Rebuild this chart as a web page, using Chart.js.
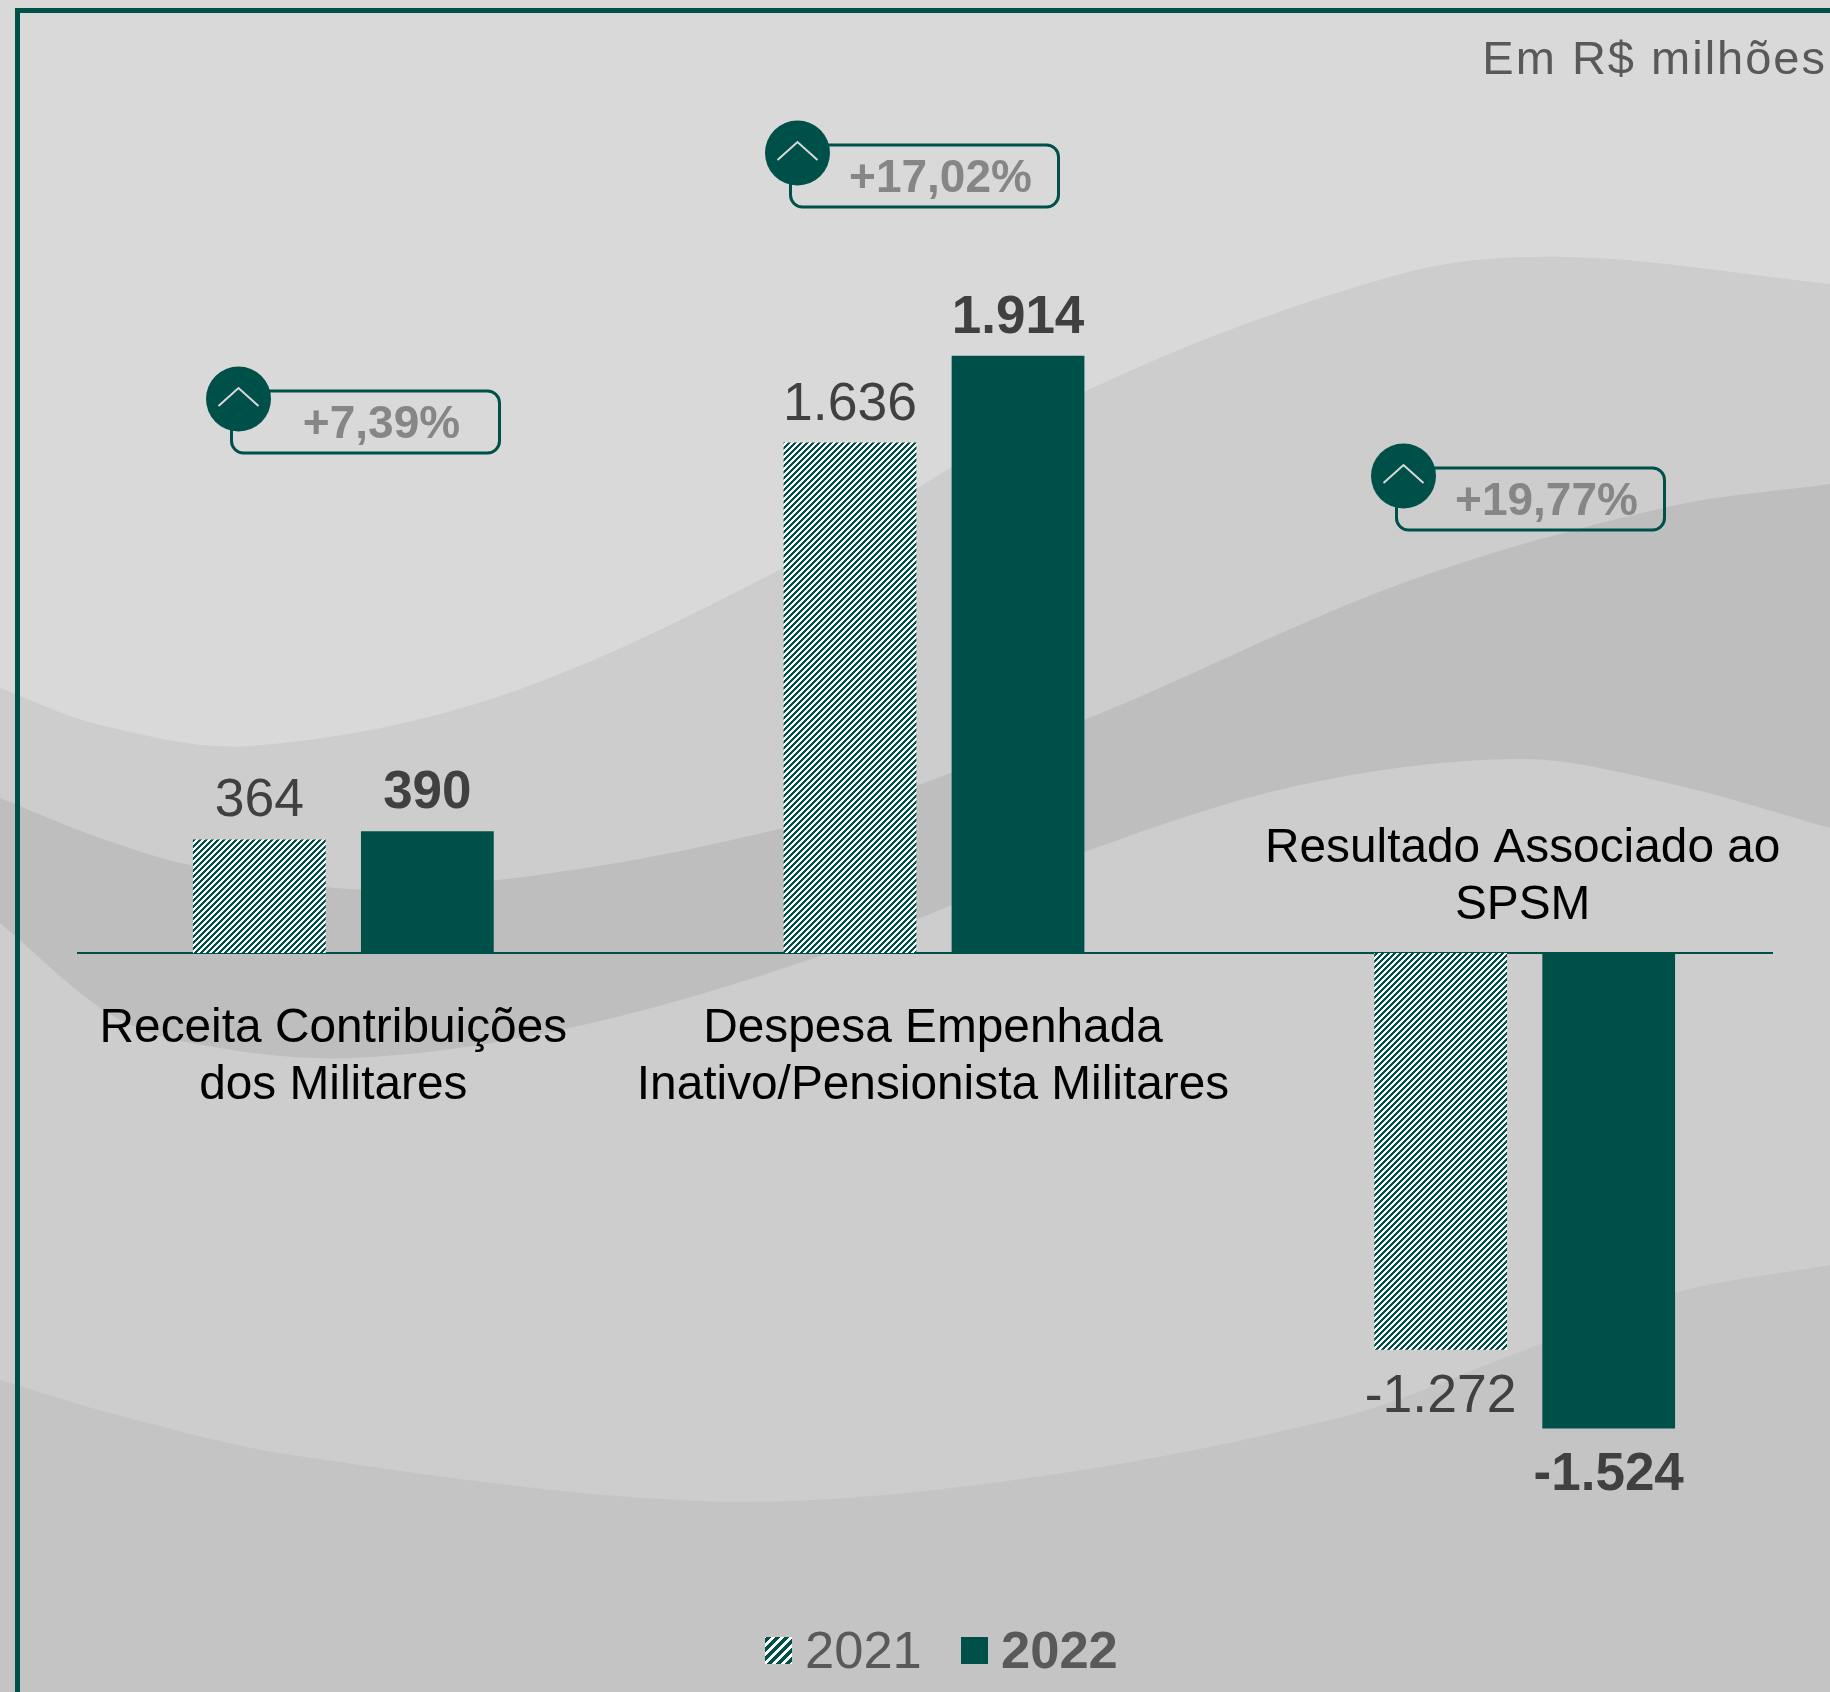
<!DOCTYPE html>
<html lang="pt-BR">
<head>
<meta charset="utf-8">
<title>Resultado Associado ao SPSM</title>
<style>
    html, body { margin: 0; padding: 0; background: #d9d9d9; }
    canvas { display: block; }
</style>
<script src="https://cdn.jsdelivr.net/npm/chart.js@4"></script>
</head>
<body>
<canvas id="grafico" width="1830" height="1692"></canvas>
<script>
// ===== DADOS =====
const categorias = ['Receita', 'Despesa', 'Resultado'];
const rotulosCategoria = [
    ['Receita Contribuições', 'dos Militares'],
    ['Despesa Empenhada', 'Inativo/Pensionista Militares'],
    ['Resultado Associado ao', 'SPSM']
];
const valores2021 = [364, 1636, -1272];
const valores2022 = [390, 1914, -1524];
const variacoes = ['+7,39%', '+17,02%', '+19,77%'];
const anos = ['2021', '2022'];
const unidade = 'Em R$ milhões';

// ===== ESTILO =====
const VERDE = '#00504a';
const FONTE = '"Liberation Sans", Arial, sans-serif';

// Hachura diagonal das barras de 2021
function criarHachura(periodo) {
    const c = document.createElement('canvas');
    c.width = periodo;
    c.height = periodo;
    const g = c.getContext('2d');
    g.fillStyle = '#ffffff';
    g.fillRect(0, 0, periodo, periodo);
    g.fillStyle = VERDE;
    for (let y = 0; y < periodo; y++) {
        for (let x = 0; x < periodo; x++) {
            if ((x + y) % periodo < periodo / 2) g.fillRect(x, y, 1, 1);
        }
    }
    return g.createPattern(c, 'repeat');
}

// ===== FUNDO =====
// Faixas onduladas, da mais alta para a mais baixa
const faixas = [
    { cor: '#cdcdcd', borda: [[0,688],[100,725],[250,746],[500,696],[783,568],[1084,392],[1400,274],[1570,257],[1830,284]] },
    { cor: '#bebebe', borda: [[0,798],[100,838],[200,867],[400,889],[783,828],[1084,720],[1400,584],[1667,507],[1830,484]] },
    { cor: '#cdcdcd', borda: [[0,923],[108,1013],[191,1043],[351,1058],[574,1027],[829,953],[1084,852],[1300,785],[1520,759],[1672,784],[1830,828]] },
    { cor: '#c4c4c4', borda: [[0,1380],[117,1415],[292,1455],[700,1501],[1000,1482],[1342,1417],[1517,1353],[1675,1293],[1830,1265]] }
];

// Inclinação em cada ponto da borda, por diferença finita
function inclinacao(p, i) {
    const a = p[Math.max(i - 1, 0)], b = p[Math.min(i + 1, p.length - 1)];
    return (b[1] - a[1]) / (b[0] - a[0]);
}

function desenharFaixa(ctx, faixa, largura, altura) {
    const p = faixa.borda;
    ctx.beginPath();
    ctx.moveTo(p[0][0], p[0][1]);
    for (let i = 0; i < p.length - 1; i++) {
        const dx = (p[i + 1][0] - p[i][0]) / 3;
        ctx.bezierCurveTo(
            p[i][0] + dx, p[i][1] + inclinacao(p, i) * dx,
            p[i + 1][0] - dx, p[i + 1][1] - inclinacao(p, i + 1) * dx,
            p[i + 1][0], p[i + 1][1]
        );
    }
    ctx.lineTo(largura, altura);
    ctx.lineTo(0, altura);
    ctx.closePath();
    ctx.fillStyle = faixa.cor;
    ctx.fill();
}

const pluginFundo = {
    id: 'fundo',
    beforeDraw(chart) {
        const ctx = chart.ctx;
        ctx.save();
        ctx.fillStyle = '#d9d9d9';
        ctx.fillRect(0, 0, chart.width, chart.height);
        faixas.forEach(f => desenharFaixa(ctx, f, chart.width, chart.height));
        // Moldura: só topo e lateral esquerda
        ctx.fillStyle = VERDE;
        ctx.fillRect(15, 8, chart.width - 15, 5);
        ctx.fillRect(15, 8, 5, chart.height - 8);
        ctx.restore();
    },
    beforeDatasetsDraw(chart) {
        // Linha do zero
        const ctx = chart.ctx;
        const y = chart.scales.y.getPixelForValue(0);
        ctx.save();
        ctx.strokeStyle = VERDE;
        ctx.lineWidth = 2;
        ctx.beginPath();
        ctx.moveTo(77, y);
        ctx.lineTo(1773, y);
        ctx.stroke();
        ctx.restore();
    }
};

// ===== TEXTOS E SELOS =====
const formatoValor = new Intl.NumberFormat('pt-BR');

function texto(ctx, str, x, y, fonte, cor, alinhamento) {
    ctx.font = fonte;
    ctx.fillStyle = cor;
    ctx.textAlign = alinhamento || 'center';
    ctx.textBaseline = 'alphabetic';
    ctx.fillText(str, x, y);
}

function desenharSelo(ctx, cx, cy, rotulo) {
    // Caixa arredondada
    ctx.strokeStyle = VERDE;
    ctx.lineWidth = 3;
    ctx.beginPath();
    ctx.roundRect(cx - 7, cy - 8, 268, 62, 12);
    ctx.stroke();
    // Círculo com a seta para cima
    ctx.fillStyle = VERDE;
    ctx.beginPath();
    ctx.arc(cx, cy, 32.5, 0, Math.PI * 2);
    ctx.fill();
    ctx.strokeStyle = '#d9d9d9';
    ctx.lineWidth = 2;
    ctx.beginPath();
    ctx.moveTo(cx - 20, cy + 7);
    ctx.lineTo(cx, cy - 11);
    ctx.lineTo(cx + 20, cy + 7);
    ctx.stroke();
    texto(ctx, rotulo, cx + 143, cy + 39, 'bold 46px ' + FONTE, '#868686');
}

const selos = [[238.5, 399], [797.5, 153], [1403.5, 476]];
const posLegenda = [{ caixa: 765, texto: 805 }, { caixa: 961, texto: 1001 }];

const pluginTextos = {
    id: 'textos',
    afterDatasetsDraw(chart) {
        const ctx = chart.ctx;
        ctx.save();

        // Valores sobre as barras
        chart.data.datasets.forEach((ds, d) => {
            const fonte = (d === 1 ? 'bold 53px ' : '53.5px ') + FONTE;
            chart.getDatasetMeta(d).data.forEach((barra, i) => {
                const v = ds.data[i];
                const y = v < 0 ? barra.y + 62 : barra.y - 23;
                texto(ctx, formatoValor.format(v), barra.x, y, fonte, '#404040');
            });
        });

        // Nomes das categorias; o terceiro fica acima do eixo
        const x = chart.scales.x;
        const deslocX = [-10, -1, -2];
        const linhaY = [1042, 1042, 862];
        rotulosCategoria.forEach((linhas, i) => {
            linhas.forEach((l, j) => {
                texto(ctx, l, x.getPixelForValue(i) + deslocX[i], linhaY[i] + j * 57, '47.8px ' + FONTE, '#000000');
            });
        });

        // Selos de variação
        variacoes.forEach((v, i) => desenharSelo(ctx, selos[i][0], selos[i][1], v));

        // Unidade
        ctx.letterSpacing = '2px';
        texto(ctx, unidade, 1827, 74, '47px ' + FONTE, '#595959', 'right');
        ctx.letterSpacing = '0px';

        // Legenda
        chart.data.datasets.forEach((ds, d) => {
            ctx.fillStyle = d === 0 ? hachuraLegenda : VERDE;
            ctx.fillRect(posLegenda[d].caixa, 1637, 27, 27);
            texto(ctx, ds.label, posLegenda[d].texto, 1668, (d === 1 ? 'bold ' : '') + '52.5px ' + FONTE, '#595959', 'left');
        });

        ctx.restore();
    }
};

// ===== GRÁFICO =====
const hachuraBarra = criarHachura(6);
const hachuraLegenda = criarHachura(9);

new Chart(document.getElementById('grafico'), {
    type: 'bar',
    data: {
        labels: categorias,
        datasets: [
            { label: anos[0], data: valores2021, backgroundColor: hachuraBarra },
            { label: anos[1], data: valores2022, backgroundColor: VERDE }
        ]
    },
    options: {
        responsive: false,
        animation: false,
        layout: { padding: { left: 48, right: 10, top: 329, bottom: 115 } },
        datasets: { bar: { categoryPercentage: 0.569, barPercentage: 0.79 } },
        plugins: {
            legend: { display: false },
            title: { display: false },
            tooltip: { enabled: false }
        },
        scales: {
            x: { display: false, grid: { display: false } },
            y: { display: false, min: -2000, max: 2000, grid: { display: false } }
        }
    },
    plugins: [pluginFundo, pluginTextos]
});
</script>
</body>
</html>
